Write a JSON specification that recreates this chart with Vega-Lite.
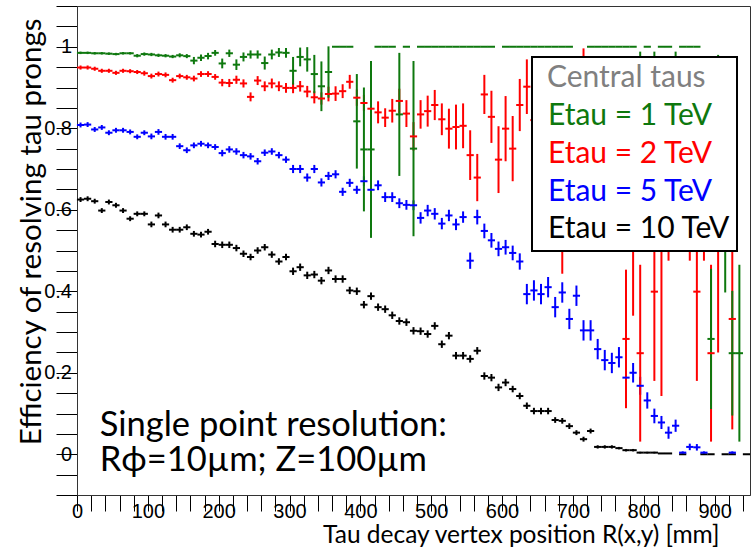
{
"$schema": "https://vega.github.io/schema/vega-lite/v6.json",
"width": 673,
"height": 489,
"autosize": {"type": "none"},
"padding": {"left": 77, "top": 6, "right": 2, "bottom": 53},
"background": "#ffffff",
"config": {
  "view": {"stroke": "#333333", "strokeWidth": 1},
  "axis": {"labelFont": "Liberation Sans", "labelFontSize": 20, "labelColor": "#000000", "domainColor": "#333333", "domainWidth": 1, "tickColor": "#000000", "tickWidth": 1, "titleFont": "Lato", "titleFontWeight": "normal", "titleColor": "#000000", "grid": false}
},
"resolve": {"axis": {"x": "independent", "y": "independent"}},
"datasets": {"eff": [
{"s":"Etau = 10 TeV","x":5,"y":0.625,"e":0.006},{"s":"Etau = 10 TeV","x":15,"y":0.627,"e":0.006},{"s":"Etau = 10 TeV","x":25,"y":0.621,"e":0.006},{"s":"Etau = 10 TeV","x":35,"y":0.598,"e":0.006},{"s":"Etau = 10 TeV","x":45,"y":0.619,"e":0.006},{"s":"Etau = 10 TeV","x":55,"y":0.611,"e":0.006},{"s":"Etau = 10 TeV","x":65,"y":0.598,"e":0.006},{"s":"Etau = 10 TeV","x":75,"y":0.578,"e":0.006},{"s":"Etau = 10 TeV","x":85,"y":0.59,"e":0.006},{"s":"Etau = 10 TeV","x":95,"y":0.59,"e":0.006},
{"s":"Etau = 10 TeV","x":105,"y":0.564,"e":0.007},{"s":"Etau = 10 TeV","x":115,"y":0.586,"e":0.007},{"s":"Etau = 10 TeV","x":125,"y":0.564,"e":0.007},{"s":"Etau = 10 TeV","x":135,"y":0.551,"e":0.007},{"s":"Etau = 10 TeV","x":145,"y":0.551,"e":0.007},{"s":"Etau = 10 TeV","x":155,"y":0.557,"e":0.007},{"s":"Etau = 10 TeV","x":165,"y":0.541,"e":0.007},{"s":"Etau = 10 TeV","x":175,"y":0.539,"e":0.007},{"s":"Etau = 10 TeV","x":185,"y":0.546,"e":0.007},{"s":"Etau = 10 TeV","x":195,"y":0.516,"e":0.008},
{"s":"Etau = 10 TeV","x":205,"y":0.514,"e":0.008},{"s":"Etau = 10 TeV","x":215,"y":0.514,"e":0.008},{"s":"Etau = 10 TeV","x":225,"y":0.506,"e":0.008},{"s":"Etau = 10 TeV","x":235,"y":0.492,"e":0.008},{"s":"Etau = 10 TeV","x":245,"y":0.484,"e":0.008},{"s":"Etau = 10 TeV","x":255,"y":0.5,"e":0.008},{"s":"Etau = 10 TeV","x":265,"y":0.508,"e":0.008},{"s":"Etau = 10 TeV","x":275,"y":0.49,"e":0.008},{"s":"Etau = 10 TeV","x":285,"y":0.473,"e":0.008},{"s":"Etau = 10 TeV","x":295,"y":0.484,"e":0.008},
{"s":"Etau = 10 TeV","x":305,"y":0.449,"e":0.009},{"s":"Etau = 10 TeV","x":315,"y":0.459,"e":0.009},{"s":"Etau = 10 TeV","x":325,"y":0.439,"e":0.009},{"s":"Etau = 10 TeV","x":335,"y":0.441,"e":0.009},{"s":"Etau = 10 TeV","x":345,"y":0.426,"e":0.009},{"s":"Etau = 10 TeV","x":355,"y":0.451,"e":0.009},{"s":"Etau = 10 TeV","x":365,"y":0.43,"e":0.009},{"s":"Etau = 10 TeV","x":375,"y":0.43,"e":0.009},{"s":"Etau = 10 TeV","x":385,"y":0.402,"e":0.009},{"s":"Etau = 10 TeV","x":395,"y":0.4,"e":0.009},
{"s":"Etau = 10 TeV","x":405,"y":0.367,"e":0.009},{"s":"Etau = 10 TeV","x":415,"y":0.388,"e":0.009},{"s":"Etau = 10 TeV","x":425,"y":0.361,"e":0.009},{"s":"Etau = 10 TeV","x":435,"y":0.356,"e":0.009},{"s":"Etau = 10 TeV","x":445,"y":0.341,"e":0.009},{"s":"Etau = 10 TeV","x":455,"y":0.327,"e":0.009},{"s":"Etau = 10 TeV","x":465,"y":0.324,"e":0.009},{"s":"Etau = 10 TeV","x":475,"y":0.303,"e":0.009},{"s":"Etau = 10 TeV","x":485,"y":0.302,"e":0.009},{"s":"Etau = 10 TeV","x":495,"y":0.295,"e":0.009},
{"s":"Etau = 10 TeV","x":505,"y":0.315,"e":0.009},{"s":"Etau = 10 TeV","x":515,"y":0.27,"e":0.009},{"s":"Etau = 10 TeV","x":525,"y":0.291,"e":0.009},{"s":"Etau = 10 TeV","x":535,"y":0.242,"e":0.009},{"s":"Etau = 10 TeV","x":545,"y":0.242,"e":0.009},{"s":"Etau = 10 TeV","x":555,"y":0.234,"e":0.009},{"s":"Etau = 10 TeV","x":565,"y":0.254,"e":0.009},{"s":"Etau = 10 TeV","x":575,"y":0.192,"e":0.009},{"s":"Etau = 10 TeV","x":585,"y":0.188,"e":0.009},{"s":"Etau = 10 TeV","x":595,"y":0.164,"e":0.009},
{"s":"Etau = 10 TeV","x":605,"y":0.176,"e":0.009},{"s":"Etau = 10 TeV","x":615,"y":0.16,"e":0.008},{"s":"Etau = 10 TeV","x":625,"y":0.143,"e":0.008},{"s":"Etau = 10 TeV","x":635,"y":0.119,"e":0.008},{"s":"Etau = 10 TeV","x":645,"y":0.106,"e":0.008},{"s":"Etau = 10 TeV","x":655,"y":0.106,"e":0.008},{"s":"Etau = 10 TeV","x":665,"y":0.106,"e":0.008},{"s":"Etau = 10 TeV","x":675,"y":0.084,"e":0.007},{"s":"Etau = 10 TeV","x":685,"y":0.082,"e":0.007},{"s":"Etau = 10 TeV","x":695,"y":0.069,"e":0.007},
{"s":"Etau = 10 TeV","x":705,"y":0.053,"e":0.006},{"s":"Etau = 10 TeV","x":715,"y":0.037,"e":0.006},{"s":"Etau = 10 TeV","x":725,"y":0.057,"e":0.006},{"s":"Etau = 10 TeV","x":735,"y":0.018,"e":0.004},{"s":"Etau = 10 TeV","x":745,"y":0.018,"e":0.004},{"s":"Etau = 10 TeV","x":755,"y":0.018,"e":0.004},{"s":"Etau = 10 TeV","x":765,"y":0.015,"e":0.003},{"s":"Etau = 10 TeV","x":775,"y":0.01,"e":0.003},{"s":"Etau = 10 TeV","x":785,"y":0.01,"e":0.003},{"s":"Etau = 10 TeV","x":795,"y":0.004,"e":0.002},
{"s":"Etau = 10 TeV","x":805,"y":0.004,"e":0.002},{"s":"Etau = 10 TeV","x":815,"y":0.004,"e":0.002},{"s":"Etau = 10 TeV","x":825,"y":0.002,"e":0.001},{"s":"Etau = 10 TeV","x":835,"y":0.002,"e":0.001},{"s":"Etau = 10 TeV","x":855,"y":0,"e":0},{"s":"Etau = 10 TeV","x":885,"y":0,"e":0},{"s":"Etau = 10 TeV","x":895,"y":0,"e":0},{"s":"Etau = 10 TeV","x":915,"y":0,"e":0},{"s":"Etau = 10 TeV","x":925,"y":0,"e":0},{"s":"Etau = 10 TeV","x":945,"y":0,"e":0},

{"s":"Etau = 5 TeV","x":5,"y":0.808,"e":0.006},{"s":"Etau = 5 TeV","x":15,"y":0.809,"e":0.006},{"s":"Etau = 5 TeV","x":25,"y":0.797,"e":0.006},{"s":"Etau = 5 TeV","x":35,"y":0.802,"e":0.006},{"s":"Etau = 5 TeV","x":45,"y":0.789,"e":0.006},{"s":"Etau = 5 TeV","x":55,"y":0.795,"e":0.006},{"s":"Etau = 5 TeV","x":65,"y":0.795,"e":0.006},{"s":"Etau = 5 TeV","x":75,"y":0.791,"e":0.006},{"s":"Etau = 5 TeV","x":85,"y":0.779,"e":0.006},{"s":"Etau = 5 TeV","x":95,"y":0.789,"e":0.006},
{"s":"Etau = 5 TeV","x":105,"y":0.78,"e":0.007},{"s":"Etau = 5 TeV","x":115,"y":0.791,"e":0.007},{"s":"Etau = 5 TeV","x":125,"y":0.779,"e":0.007},{"s":"Etau = 5 TeV","x":135,"y":0.779,"e":0.007},{"s":"Etau = 5 TeV","x":145,"y":0.756,"e":0.007},{"s":"Etau = 5 TeV","x":155,"y":0.746,"e":0.007},{"s":"Etau = 5 TeV","x":165,"y":0.758,"e":0.007},{"s":"Etau = 5 TeV","x":175,"y":0.762,"e":0.007},{"s":"Etau = 5 TeV","x":185,"y":0.758,"e":0.007},{"s":"Etau = 5 TeV","x":195,"y":0.754,"e":0.007},
{"s":"Etau = 5 TeV","x":205,"y":0.739,"e":0.008},{"s":"Etau = 5 TeV","x":215,"y":0.748,"e":0.008},{"s":"Etau = 5 TeV","x":225,"y":0.743,"e":0.008},{"s":"Etau = 5 TeV","x":235,"y":0.734,"e":0.008},{"s":"Etau = 5 TeV","x":245,"y":0.731,"e":0.008},{"s":"Etau = 5 TeV","x":255,"y":0.719,"e":0.008},{"s":"Etau = 5 TeV","x":265,"y":0.74,"e":0.008},{"s":"Etau = 5 TeV","x":275,"y":0.743,"e":0.008},{"s":"Etau = 5 TeV","x":285,"y":0.734,"e":0.008},{"s":"Etau = 5 TeV","x":295,"y":0.723,"e":0.008},
{"s":"Etau = 5 TeV","x":305,"y":0.7,"e":0.01},{"s":"Etau = 5 TeV","x":315,"y":0.7,"e":0.01},{"s":"Etau = 5 TeV","x":325,"y":0.679,"e":0.01},{"s":"Etau = 5 TeV","x":335,"y":0.7,"e":0.01},{"s":"Etau = 5 TeV","x":345,"y":0.667,"e":0.01},{"s":"Etau = 5 TeV","x":355,"y":0.683,"e":0.01},{"s":"Etau = 5 TeV","x":365,"y":0.687,"e":0.01},{"s":"Etau = 5 TeV","x":375,"y":0.644,"e":0.01},{"s":"Etau = 5 TeV","x":385,"y":0.666,"e":0.01},{"s":"Etau = 5 TeV","x":395,"y":0.649,"e":0.01},
{"s":"Etau = 5 TeV","x":405,"y":0.67,"e":0.012},{"s":"Etau = 5 TeV","x":415,"y":0.649,"e":0.012},{"s":"Etau = 5 TeV","x":425,"y":0.66,"e":0.012},{"s":"Etau = 5 TeV","x":435,"y":0.631,"e":0.012},{"s":"Etau = 5 TeV","x":445,"y":0.631,"e":0.012},{"s":"Etau = 5 TeV","x":455,"y":0.616,"e":0.012},{"s":"Etau = 5 TeV","x":465,"y":0.612,"e":0.012},{"s":"Etau = 5 TeV","x":475,"y":0.611,"e":0.012},{"s":"Etau = 5 TeV","x":485,"y":0.58,"e":0.014},{"s":"Etau = 5 TeV","x":495,"y":0.598,"e":0.014},
{"s":"Etau = 5 TeV","x":505,"y":0.59,"e":0.014},{"s":"Etau = 5 TeV","x":515,"y":0.566,"e":0.014},{"s":"Etau = 5 TeV","x":525,"y":0.586,"e":0.014},{"s":"Etau = 5 TeV","x":535,"y":0.564,"e":0.014},{"s":"Etau = 5 TeV","x":545,"y":0.582,"e":0.014},{"s":"Etau = 5 TeV","x":555,"y":0.475,"e":0.02},{"s":"Etau = 5 TeV","x":565,"y":0.582,"e":0.018},{"s":"Etau = 5 TeV","x":575,"y":0.548,"e":0.018},{"s":"Etau = 5 TeV","x":585,"y":0.525,"e":0.018},{"s":"Etau = 5 TeV","x":595,"y":0.504,"e":0.018},
{"s":"Etau = 5 TeV","x":605,"y":0.508,"e":0.018},{"s":"Etau = 5 TeV","x":615,"y":0.494,"e":0.018},{"s":"Etau = 5 TeV","x":625,"y":0.473,"e":0.02},{"s":"Etau = 5 TeV","x":635,"y":0.393,"e":0.025},{"s":"Etau = 5 TeV","x":645,"y":0.402,"e":0.025},{"s":"Etau = 5 TeV","x":655,"y":0.393,"e":0.025},{"s":"Etau = 5 TeV","x":665,"y":0.41,"e":0.025},{"s":"Etau = 5 TeV","x":675,"y":0.361,"e":0.025},{"s":"Etau = 5 TeV","x":685,"y":0.397,"e":0.025},{"s":"Etau = 5 TeV","x":695,"y":0.332,"e":0.025},
{"s":"Etau = 5 TeV","x":705,"y":0.389,"e":0.025},{"s":"Etau = 5 TeV","x":715,"y":0.304,"e":0.025},{"s":"Etau = 5 TeV","x":725,"y":0.304,"e":0.025},{"s":"Etau = 5 TeV","x":735,"y":0.258,"e":0.025},{"s":"Etau = 5 TeV","x":745,"y":0.231,"e":0.025},{"s":"Etau = 5 TeV","x":755,"y":0.224,"e":0.025},{"s":"Etau = 5 TeV","x":765,"y":0.238,"e":0.025},{"s":"Etau = 5 TeV","x":775,"y":0.188,"e":0.024},{"s":"Etau = 5 TeV","x":785,"y":0.2,"e":0.024},{"s":"Etau = 5 TeV","x":795,"y":0.168,"e":0.022},
{"s":"Etau = 5 TeV","x":805,"y":0.132,"e":0.02},{"s":"Etau = 5 TeV","x":815,"y":0.094,"e":0.018},{"s":"Etau = 5 TeV","x":825,"y":0.078,"e":0.016},{"s":"Etau = 5 TeV","x":835,"y":0.053,"e":0.015},{"s":"Etau = 5 TeV","x":845,"y":0.07,"e":0.015},{"s":"Etau = 5 TeV","x":855,"y":0.004,"e":0.003},{"s":"Etau = 5 TeV","x":865,"y":0.018,"e":0.008},{"s":"Etau = 5 TeV","x":875,"y":0.017,"e":0.008},{"s":"Etau = 5 TeV","x":885,"y":0.004,"e":0.003},{"s":"Etau = 5 TeV","x":925,"y":0.004,"e":0.003},

{"s":"Etau = 2 TeV","x":5,"y":0.949,"e":0.005},{"s":"Etau = 2 TeV","x":15,"y":0.949,"e":0.005},{"s":"Etau = 2 TeV","x":25,"y":0.946,"e":0.005},{"s":"Etau = 2 TeV","x":35,"y":0.941,"e":0.005},{"s":"Etau = 2 TeV","x":45,"y":0.941,"e":0.005},{"s":"Etau = 2 TeV","x":55,"y":0.936,"e":0.005},{"s":"Etau = 2 TeV","x":65,"y":0.941,"e":0.005},{"s":"Etau = 2 TeV","x":75,"y":0.94,"e":0.005},{"s":"Etau = 2 TeV","x":85,"y":0.938,"e":0.005},{"s":"Etau = 2 TeV","x":95,"y":0.935,"e":0.006},
{"s":"Etau = 2 TeV","x":105,"y":0.928,"e":0.006},{"s":"Etau = 2 TeV","x":115,"y":0.933,"e":0.006},{"s":"Etau = 2 TeV","x":125,"y":0.931,"e":0.006},{"s":"Etau = 2 TeV","x":135,"y":0.918,"e":0.006},{"s":"Etau = 2 TeV","x":145,"y":0.928,"e":0.006},{"s":"Etau = 2 TeV","x":155,"y":0.925,"e":0.006},{"s":"Etau = 2 TeV","x":165,"y":0.922,"e":0.007},{"s":"Etau = 2 TeV","x":175,"y":0.933,"e":0.007},{"s":"Etau = 2 TeV","x":185,"y":0.933,"e":0.007},{"s":"Etau = 2 TeV","x":195,"y":0.926,"e":0.007},
{"s":"Etau = 2 TeV","x":205,"y":0.912,"e":0.009},{"s":"Etau = 2 TeV","x":215,"y":0.911,"e":0.01},{"s":"Etau = 2 TeV","x":225,"y":0.919,"e":0.01},{"s":"Etau = 2 TeV","x":235,"y":0.91,"e":0.01},{"s":"Etau = 2 TeV","x":245,"y":0.877,"e":0.011},{"s":"Etau = 2 TeV","x":255,"y":0.917,"e":0.011},{"s":"Etau = 2 TeV","x":265,"y":0.903,"e":0.012},{"s":"Etau = 2 TeV","x":275,"y":0.91,"e":0.012},{"s":"Etau = 2 TeV","x":285,"y":0.903,"e":0.012},{"s":"Etau = 2 TeV","x":295,"y":0.899,"e":0.012},
{"s":"Etau = 2 TeV","x":305,"y":0.899,"e":0.013},{"s":"Etau = 2 TeV","x":315,"y":0.903,"e":0.013},{"s":"Etau = 2 TeV","x":325,"y":0.89,"e":0.014},{"s":"Etau = 2 TeV","x":335,"y":0.876,"e":0.015},{"s":"Etau = 2 TeV","x":345,"y":0.873,"e":0.015},{"s":"Etau = 2 TeV","x":355,"y":0.884,"e":0.018},{"s":"Etau = 2 TeV","x":365,"y":0.885,"e":0.018},{"s":"Etau = 2 TeV","x":375,"y":0.891,"e":0.017},{"s":"Etau = 2 TeV","x":385,"y":0.914,"e":0.017},{"s":"Etau = 2 TeV","x":395,"y":0.875,"e":0.02},
{"s":"Etau = 2 TeV","x":405,"y":0.862,"e":0.02},{"s":"Etau = 2 TeV","x":415,"y":0.848,"e":0.022},{"s":"Etau = 2 TeV","x":425,"y":0.839,"e":0.027},{"s":"Etau = 2 TeV","x":435,"y":0.826,"e":0.023},{"s":"Etau = 2 TeV","x":445,"y":0.843,"e":0.029},{"s":"Etau = 2 TeV","x":455,"y":0.867,"e":0.03},{"s":"Etau = 2 TeV","x":465,"y":0.836,"e":0.033},{"s":"Etau = 2 TeV","x":475,"y":0.78,"e":0.035},{"s":"Etau = 2 TeV","x":485,"y":0.834,"e":0.035},{"s":"Etau = 2 TeV","x":495,"y":0.842,"e":0.038},
{"s":"Etau = 2 TeV","x":505,"y":0.857,"e":0.037},{"s":"Etau = 2 TeV","x":515,"y":0.822,"e":0.039},{"s":"Etau = 2 TeV","x":525,"y":0.799,"e":0.049},{"s":"Etau = 2 TeV","x":535,"y":0.803,"e":0.055},{"s":"Etau = 2 TeV","x":545,"y":0.806,"e":0.055},{"s":"Etau = 2 TeV","x":555,"y":0.734,"e":0.061},{"s":"Etau = 2 TeV","x":565,"y":0.679,"e":0.058},{"s":"Etau = 2 TeV","x":575,"y":0.883,"e":0.048},{"s":"Etau = 2 TeV","x":585,"y":0.828,"e":0.064},{"s":"Etau = 2 TeV","x":595,"y":0.723,"e":0.082},
{"s":"Etau = 2 TeV","x":605,"y":0.799,"e":0.08},{"s":"Etau = 2 TeV","x":615,"y":0.75,"e":0.08},{"s":"Etau = 2 TeV","x":625,"y":0.857,"e":0.064},{"s":"Etau = 2 TeV","x":635,"y":0.902,"e":0.067},{"s":"Etau = 2 TeV","x":645,"y":0.82,"e":0.09},{"s":"Etau = 2 TeV","x":655,"y":0.75,"e":0.1},{"s":"Etau = 2 TeV","x":665,"y":0.78,"e":0.1},{"s":"Etau = 2 TeV","x":675,"y":0.72,"e":0.12},{"s":"Etau = 2 TeV","x":685,"y":0.62,"e":0.177},{"s":"Etau = 2 TeV","x":695,"y":0.74,"e":0.13},
{"s":"Etau = 2 TeV","x":705,"y":0.8,"e":0.12},{"s":"Etau = 2 TeV","x":715,"y":0.8,"e":0.196},{"s":"Etau = 2 TeV","x":725,"y":0.7,"e":0.15},{"s":"Etau = 2 TeV","x":735,"y":0.75,"e":0.15},{"s":"Etau = 2 TeV","x":745,"y":0.7,"e":0.17},{"s":"Etau = 2 TeV","x":755,"y":0.72,"e":0.16},{"s":"Etau = 2 TeV","x":765,"y":0.75,"e":0.2},{"s":"Etau = 2 TeV","x":775,"y":0.283,"e":0.17},{"s":"Etau = 2 TeV","x":785,"y":0.62,"e":0.28},{"s":"Etau = 2 TeV","x":795,"y":0.248,"e":0.217},
{"s":"Etau = 2 TeV","x":805,"y":0.7,"e":0.2},{"s":"Etau = 2 TeV","x":815,"y":0.399,"e":0.219},{"s":"Etau = 2 TeV","x":825,"y":0.55,"e":0.407},{"s":"Etau = 2 TeV","x":835,"y":0.7,"e":0.225},{"s":"Etau = 2 TeV","x":845,"y":0.75,"e":0.2},{"s":"Etau = 2 TeV","x":855,"y":0.72,"e":0.2},{"s":"Etau = 2 TeV","x":865,"y":0.7,"e":0.225},{"s":"Etau = 2 TeV","x":875,"y":0.399,"e":0.219},{"s":"Etau = 2 TeV","x":885,"y":0.7,"e":0.225},{"s":"Etau = 2 TeV","x":895,"y":0.248,"e":0.217},
{"s":"Etau = 2 TeV","x":905,"y":0.6,"e":0.35},{"s":"Etau = 2 TeV","x":915,"y":0.7,"e":0.2},{"s":"Etau = 2 TeV","x":925,"y":0.332,"e":0.271},

{"s":"Etau = 1 TeV","x":5,"y":0.985,"e":0.003},{"s":"Etau = 1 TeV","x":15,"y":0.985,"e":0.003},{"s":"Etau = 1 TeV","x":25,"y":0.984,"e":0.003},{"s":"Etau = 1 TeV","x":35,"y":0.984,"e":0.003},{"s":"Etau = 1 TeV","x":45,"y":0.983,"e":0.003},{"s":"Etau = 1 TeV","x":55,"y":0.982,"e":0.003},{"s":"Etau = 1 TeV","x":65,"y":0.984,"e":0.003},{"s":"Etau = 1 TeV","x":75,"y":0.984,"e":0.003},{"s":"Etau = 1 TeV","x":85,"y":0.978,"e":0.004},{"s":"Etau = 1 TeV","x":95,"y":0.982,"e":0.004},
{"s":"Etau = 1 TeV","x":105,"y":0.981,"e":0.004},{"s":"Etau = 1 TeV","x":115,"y":0.979,"e":0.004},{"s":"Etau = 1 TeV","x":125,"y":0.978,"e":0.004},{"s":"Etau = 1 TeV","x":135,"y":0.976,"e":0.004},{"s":"Etau = 1 TeV","x":145,"y":0.979,"e":0.005},{"s":"Etau = 1 TeV","x":155,"y":0.977,"e":0.005},{"s":"Etau = 1 TeV","x":165,"y":0.966,"e":0.009},{"s":"Etau = 1 TeV","x":175,"y":0.973,"e":0.008},{"s":"Etau = 1 TeV","x":185,"y":0.977,"e":0.008},{"s":"Etau = 1 TeV","x":195,"y":0.985,"e":0.007},
{"s":"Etau = 1 TeV","x":205,"y":0.959,"e":0.012},{"s":"Etau = 1 TeV","x":215,"y":0.984,"e":0.009},{"s":"Etau = 1 TeV","x":225,"y":0.956,"e":0.013},{"s":"Etau = 1 TeV","x":235,"y":0.975,"e":0.011},{"s":"Etau = 1 TeV","x":245,"y":0.981,"e":0.01},{"s":"Etau = 1 TeV","x":255,"y":0.981,"e":0.01},{"s":"Etau = 1 TeV","x":265,"y":0.96,"e":0.016},{"s":"Etau = 1 TeV","x":275,"y":0.981,"e":0.012},{"s":"Etau = 1 TeV","x":285,"y":0.986,"e":0.011},{"s":"Etau = 1 TeV","x":295,"y":0.985,"e":0.012},
{"s":"Etau = 1 TeV","x":305,"y":0.941,"e":0.034},{"s":"Etau = 1 TeV","x":315,"y":0.975,"e":0.023},{"s":"Etau = 1 TeV","x":325,"y":0.969,"e":0.03},{"s":"Etau = 1 TeV","x":335,"y":0.933,"e":0.047},{"s":"Etau = 1 TeV","x":345,"y":0.903,"e":0.061},{"s":"Etau = 1 TeV","x":355,"y":0.938,"e":0.063},{"s":"Etau = 1 TeV","x":365,"y":1,"e":0},{"s":"Etau = 1 TeV","x":375,"y":1,"e":0},{"s":"Etau = 1 TeV","x":385,"y":1,"e":0},{"s":"Etau = 1 TeV","x":395,"y":0.817,"e":0.116},
{"s":"Etau = 1 TeV","x":405,"y":0.748,"e":0.152},{"s":"Etau = 1 TeV","x":415,"y":0.748,"e":0.217},{"s":"Etau = 1 TeV","x":425,"y":1,"e":0},{"s":"Etau = 1 TeV","x":435,"y":1,"e":0},{"s":"Etau = 1 TeV","x":445,"y":1,"e":0},{"s":"Etau = 1 TeV","x":455,"y":0.834,"e":0.151},{"s":"Etau = 1 TeV","x":465,"y":1,"e":0},{"s":"Etau = 1 TeV","x":475,"y":0.75,"e":0.215},{"s":"Etau = 1 TeV","x":485,"y":1,"e":0},{"s":"Etau = 1 TeV","x":495,"y":1,"e":0},
{"s":"Etau = 1 TeV","x":505,"y":1,"e":0},{"s":"Etau = 1 TeV","x":515,"y":1,"e":0},{"s":"Etau = 1 TeV","x":525,"y":1,"e":0},{"s":"Etau = 1 TeV","x":535,"y":1,"e":0},{"s":"Etau = 1 TeV","x":545,"y":1,"e":0},{"s":"Etau = 1 TeV","x":555,"y":1,"e":0},{"s":"Etau = 1 TeV","x":565,"y":1,"e":0},{"s":"Etau = 1 TeV","x":575,"y":1,"e":0},{"s":"Etau = 1 TeV","x":585,"y":1,"e":0},
{"s":"Etau = 1 TeV","x":605,"y":1,"e":0},{"s":"Etau = 1 TeV","x":615,"y":1,"e":0},{"s":"Etau = 1 TeV","x":625,"y":1,"e":0},{"s":"Etau = 1 TeV","x":635,"y":1,"e":0},{"s":"Etau = 1 TeV","x":645,"y":1,"e":0},{"s":"Etau = 1 TeV","x":655,"y":1,"e":0},{"s":"Etau = 1 TeV","x":665,"y":1,"e":0},{"s":"Etau = 1 TeV","x":675,"y":1,"e":0},{"s":"Etau = 1 TeV","x":685,"y":1,"e":0},{"s":"Etau = 1 TeV","x":695,"y":1,"e":0},
{"s":"Etau = 1 TeV","x":725,"y":1,"e":0},{"s":"Etau = 1 TeV","x":735,"y":1,"e":0},{"s":"Etau = 1 TeV","x":745,"y":1,"e":0},{"s":"Etau = 1 TeV","x":755,"y":1,"e":0},{"s":"Etau = 1 TeV","x":765,"y":1,"e":0},{"s":"Etau = 1 TeV","x":775,"y":1,"e":0},{"s":"Etau = 1 TeV","x":785,"y":1,"e":0},{"s":"Etau = 1 TeV","x":795,"y":0.8,"e":0.188},{"s":"Etau = 1 TeV","x":805,"y":1,"e":0},{"s":"Etau = 1 TeV","x":815,"y":0.8,"e":0.188},
{"s":"Etau = 1 TeV","x":825,"y":1,"e":0},{"s":"Etau = 1 TeV","x":835,"y":1,"e":0},{"s":"Etau = 1 TeV","x":845,"y":0.8,"e":0.188},{"s":"Etau = 1 TeV","x":855,"y":1,"e":0},{"s":"Etau = 1 TeV","x":865,"y":1,"e":0},{"s":"Etau = 1 TeV","x":875,"y":1,"e":0},{"s":"Etau = 1 TeV","x":895,"y":0.283,"e":0.172},{"s":"Etau = 1 TeV","x":905,"y":0.75,"e":0.23},{"s":"Etau = 1 TeV","x":915,"y":0.667,"e":0.27},{"s":"Etau = 1 TeV","x":925,"y":0.248,"e":0.153},
{"s":"Etau = 1 TeV","x":935,"y":0.248,"e":0.217}
],
"note": [{"t": ["Single point resolution:", "Rϕ=10µm; Z=100µm"]}]
},
"layer": [
  {
    "data": {"name": "eff"},
    "encoding": {
      "x": {"field": "x", "type": "quantitative", "scale": {"domain": [0, 950], "nice": false, "zero": false},
        "axis": {"orient": "bottom", "title": "Tau decay vertex position R(x,y) [mm]", "titleFontSize": 24.5, "titleX": 642, "titleY": 47, "titleAlign": "right", "titleBaseline": "alphabetic", "titleAngle": 0,
          "values": [0,20,40,60,80,100,120,140,160,180,200,220,240,260,280,300,320,340,360,380,400,420,440,460,480,500,520,540,560,580,600,620,640,660,680,700,720,740,760,780,800,820,840,860,880,900,920,940],
          "labelExpr": "datum.value % 100 === 0 ? format(datum.value, 'd') : ''", "labelOverlap": false, "labelFlush": false, "tickSize": 16, "labelPadding": -10,
          "encode": {"ticks": {"update": {"y2": {"signal": "datum.value % 100 === 0 ? -16 : -9"}}}}}},
      "y": {"field": "y", "type": "quantitative", "scale": {"domain": [-0.1, 1.1], "nice": false, "zero": false},
        "axis": {"orient": "left", "title": "Efficiency of resolving tau prongs", "titleFontSize": 29.5, "titleX": -37, "titleY": 12, "titleAlign": "right", "titleBaseline": "alphabetic", "titleAngle": 270,
          "values": [-0.1,-0.05,0,0.05,0.1,0.15,0.2,0.25,0.3,0.35,0.4,0.45,0.5,0.55,0.6,0.65,0.7,0.75,0.8,0.85,0.9,0.95,1,1.05,1.1],
          "labelExpr": "abs(datum.value*5 - round(datum.value*5)) < 0.001 ? format(datum.value, '~g') : ''", "labelOverlap": false, "labelFlush": false, "tickSize": 21, "labelPadding": -15.5,
          "encode": {"ticks": {"update": {"x2": {"signal": "abs(datum.value*5 - round(datum.value*5)) < 0.001 ? 21 : 11"}}}}}},
      "color": {"field": "s", "type": "nominal",
        "scale": {"domain": ["Etau = 1 TeV", "Etau = 2 TeV", "Etau = 5 TeV", "Etau = 10 TeV"], "range": ["#0e780e", "#ff0000", "#0000ff", "#000000"]},
        "legend": {"orient": "none", "legendX": 455, "legendY": 51,
          "title": "Central taus", "titleFont": "Lato", "titleFontSize": 30, "titleFontWeight": "normal", "titleColor": "#808080", "titlePadding": 8, "titleLimit": 400,
          "labelFont": "Lato", "labelFontSize": 30, "labelLimit": 400, "labelOffset": -20, "labelExpr": "datum.label + '\u00a0\u00a0\u00a0\u00a0\u00a0'",
          "symbolSize": 0, "symbolOpacity": 0, "symbolStrokeWidth": 0, "symbolType": "square",
          "rowPadding": 7.8, "padding": 6, "fillColor": "#ffffff", "strokeColor": "#000000",
          "encode": {"labels": {"update": {"fill": {"scale": "color", "field": "value"}}}, "title": {"update": {"dx": {"value": 9}}}, "legend": {"update": {"strokeWidth": {"value": 2}}}}}}
    },
    "layer": [
      {"mark": {"type": "errorbar", "ticks": false, "thickness": 2}, "encoding": {"yError": {"field": "e"}}},
      {"mark": {"type": "tick", "orient": "horizontal", "size": 7.2, "thickness": 2, "opacity": 1}}
    ]
  },
  {
    "data": {"name": "note"},
    "mark": {"type": "text", "font": "Lato", "fontSize": 34.5, "align": "left", "baseline": "alphabetic", "lineHeight": 35, "color": "#000000"},
    "encoding": {"x": {"datum": 32, "type": "quantitative", "axis": null}, "y": {"datum": 0.045, "type": "quantitative", "axis": null}, "text": {"field": "t"}}
  }
]
}
